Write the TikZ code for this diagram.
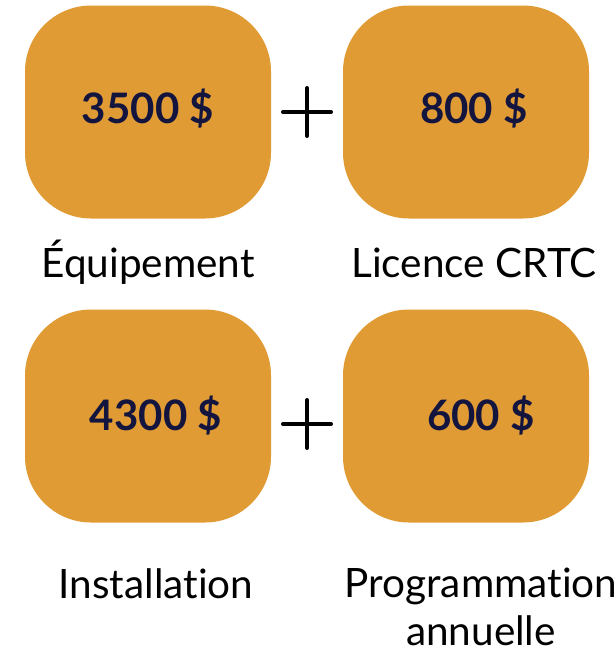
\documentclass[tikz,border=0pt]{standalone}
\usepackage{fontspec}
\setmainfont{Lato}[Ligatures=NoCommon]
\usetikzlibrary{calc}
\usetikzlibrary{positioning}
\definecolor{boxorange}{HTML}{E09B34}
\definecolor{amtnavy}{HTML}{13153F}
\tikzstyle{cb}=[rectangle, fill=boxorange, rounded corners=66pt, inner sep=0pt, minimum width=246pt, minimum height=213pt]
\tikzstyle{amt}=[text=amtnavy, inner sep=0pt, font=\fontsize{42}{48}\selectfont\bfseries]
\tikzstyle{lbl}=[anchor=base, inner sep=0pt, align=center, font=\fontsize{40.5}{48}\selectfont]
\tikzstyle{pl}=[line width=4pt, line cap=round]

\begin{document}
\begin{tikzpicture}[x=1pt, y=-1pt]
\useasboundingbox (0,0) rectangle (615,653);
\node[cb] (b1) at (148,112) {};
\node[cb] (b2) at (466,112) {};
\node[cb] (b3) at (148,416) {};
\node[cb] (b4) at (466,416) {};
\node[amt] (a1) at (b1.center) [yshift=3pt] {3500 \$};
\node[amt] (a2) at (b2.center) [xshift=8pt, yshift=3pt] {800 \$};
\node[amt] (a3) at (b3.center) [xshift=8pt] {4300 \$};
\node[amt] (a4) at (b4.center) [xshift=15pt] {600 \$};
\node[lbl] (l1) at (148,277) {Équipement};
\node[lbl] (l2) at (474,277) {Licence CRTC};
\node[lbl] (l3) at (156,598) {Installation};
\node[lbl] (l4) at (481,645) {Programmation\\annuelle};
% plus signs
\coordinate (p1) at (307,112);
\coordinate (p2) at (307,424);
\draw[pl] ($(p1)+(-24,0)$) -- ($(p1)+(24,0)$) ($(p1)+(0,-24)$) -- ($(p1)+(0,24)$);
\draw[pl] ($(p2)+(-24,0)$) -- ($(p2)+(24,0)$) ($(p2)+(0,-24)$) -- ($(p2)+(0,24)$);
\end{tikzpicture}
\end{document}
